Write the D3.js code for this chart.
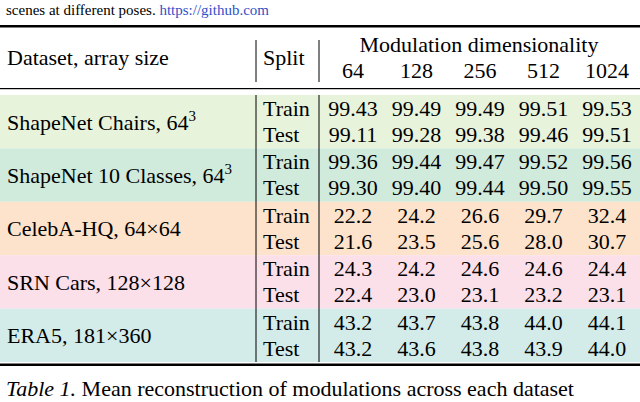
<!DOCTYPE html><html><head><meta charset="utf-8"><script src="https://cdn.jsdelivr.net/npm/d3@7"></script>
<style>body{margin:0;background:#fff}text{font-family:"Liberation Serif","Times New Roman",serif}</style></head><body><svg id="s" width="640" height="402"></svg>
<script>
const dims=["64","128","256","512","1024"];
const datasets=["ShapeNet Chairs, 64³","ShapeNet 10 Classes, 64³","CelebA-HQ, 64×64","SRN Cars, 128×128","ERA5, 181×360"];
const colors=["#e8f3dc","#d0eadc","#fde3cb","#fbdfe9","#d3ecea"];
const train=[["99.43","99.49","99.49","99.51","99.53"],["99.36","99.44","99.47","99.52","99.56"],["22.2","24.2","26.6","29.7","32.4"],["24.3","24.2","24.6","24.6","24.4"],["43.2","43.7","43.8","44.0","44.1"]];
const test=[["99.11","99.28","99.38","99.46","99.51"],["99.30","99.40","99.44","99.50","99.55"],["21.6","23.5","25.6","28.0","30.7"],["22.4","23.0","23.1","23.2","23.1"],["43.2","43.6","43.8","43.9","44.0"]];
const svg=d3.select("#s");
const x=d3.scalePoint().domain(dims).range([353,607]);
const y=d3.scaleBand().domain(d3.range(datasets.length)).range([95,362]);
const fs=22;
svg.append("text").attr("x",6).attr("y",15).attr("font-size",15).text("scenes at different poses. ").append("tspan").attr("fill","#3050c8").text("https://github.com");
svg.append("rect").attr("x",0).attr("y",25).attr("width",640).attr("height",2.5).attr("fill","#000");
svg.append("rect").attr("x",0).attr("y",88).attr("width",640).attr("height",1.2).attr("fill","#000");
svg.append("rect").attr("x",0).attr("y",363.5).attr("width",640).attr("height",2.5).attr("fill","#000");
svg.append("text").attr("x",7).attr("y",65).attr("font-size",fs).text("Dataset, array size");
svg.append("text").attr("x",263).attr("y",65).attr("font-size",fs).text("Split");
svg.append("text").attr("x",479).attr("y",52).attr("text-anchor","middle").attr("font-size",fs).text("Modulation dimensionality");
svg.selectAll(".h").data(dims).join("text").attr("x",d=>x(d)).attr("y",78).attr("text-anchor","middle").attr("font-size",fs).text(d=>d);
const g=svg.selectAll(".r").data(datasets).join("g").attr("transform",(d,i)=>`translate(0,${y(i)})`);
g.append("rect").attr("x",0).attr("width",640).attr("height",y.bandwidth()).attr("fill",(d,i)=>colors[i]);
g.append("text").attr("x",7).attr("y",y.bandwidth()/2+8).attr("font-size",fs).each(function(d){
 const m=d.match(/^(.*64)³$/); const t=d3.select(this);
 if(m){t.text(m[1]);t.append("tspan").attr("dy",-9).attr("font-size",15).text("3");} else t.text(d);});
g.append("text").attr("x",263).attr("y",21).attr("font-size",fs).text("Train");
g.append("text").attr("x",263).attr("y",47).attr("font-size",fs).text("Test");
g.each(function(d,i){const gg=d3.select(this);
 gg.selectAll(".a").data(train[i]).join("text").attr("x",(v,j)=>x(dims[j])).attr("y",21).attr("text-anchor","middle").attr("font-size",fs).text(v=>v);
 gg.selectAll(".b").data(test[i]).join("text").attr("x",(v,j)=>x(dims[j])).attr("y",47).attr("text-anchor","middle").attr("font-size",fs).text(v=>v);});
[256,319].forEach(v=>{svg.append("line").attr("x1",v).attr("x2",v).attr("y1",40).attr("y2",82).attr("stroke","#000");
 svg.append("line").attr("x1",v).attr("x2",v).attr("y1",95).attr("y2",362).attr("stroke","#000");});
svg.append("text").attr("x",6).attr("y",396).attr("font-size",fs).html('<tspan font-style="italic">Table 1.</tspan> Mean reconstruction of modulations across each dataset');
</script></body></html>
